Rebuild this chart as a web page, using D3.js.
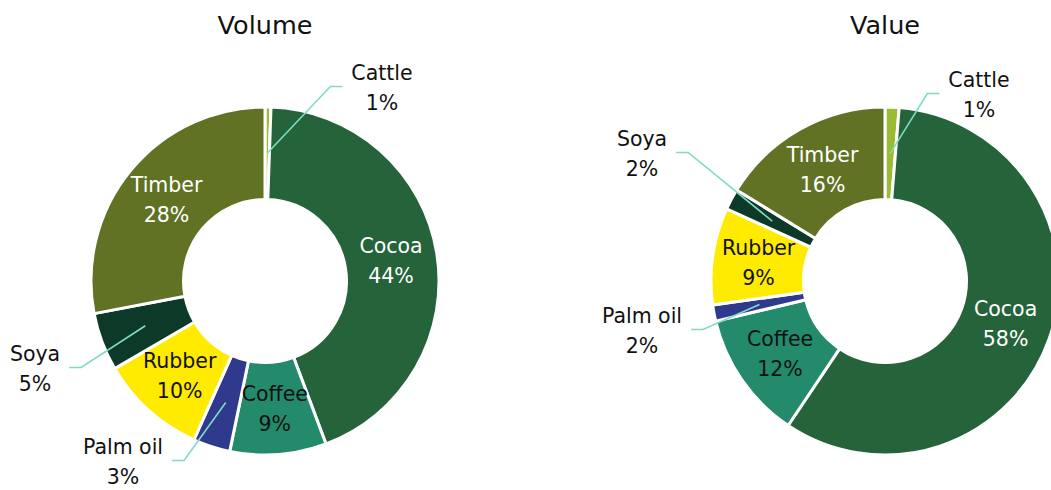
<!DOCTYPE html>
<html>
<head>
<meta charset="utf-8">
<script src="https://cdn.jsdelivr.net/npm/d3@7"></script>
<style>
  html, body { margin: 0; padding: 0; background: #fff; }
  svg { display: block; }
  text { font-family: "DejaVu Sans", sans-serif; }
</style>
</head>
<body>
<svg id="chart" width="1051" height="490"></svg>
<script>
// Commodity categories (clockwise from 12 o'clock)
const categories = ["Cattle", "Cocoa", "Coffee", "Palm oil", "Rubber", "Soya", "Timber"];

// Share of total, in percent
const volumeValues = [0.55, 43.75, 8.95, 3.45, 9.9, 5.4, 28.0];
const valueValues  = [1.3, 58.1, 11.9, 1.5, 9.0, 1.95, 16.25];

// Rounded labels shown on the slices
const volumeLabels = ["1%", "44%", "9%", "3%", "10%", "5%", "28%"];
const valueLabels  = ["1%", "58%", "12%", "2%", "9%", "2%", "16%"];

const chartTitles = ["Volume", "Value"];

const colors = {
  "Cattle":   "#9bbb36",
  "Cocoa":    "#25633a",
  "Coffee":   "#238a6b",
  "Palm oil": "#2f3a8c",
  "Rubber":   "#ffeb00",
  "Soya":     "#0d3a28",
  "Timber":   "#617225"
};
const lightText = new Set(["Cocoa", "Timber"]);

// Small slices labelled outside with a leader line: label block centre offset from the donut centre
const volumeOutside = {
  "Cattle":   { dx: 117,  dy: -193, side: "right" },
  "Soya":     { dx: -230, dy: 88,   side: "left" },
  "Palm oil": { dx: -142, dy: 181,  side: "left" }
};
const valueOutside = {
  "Cattle":   { dx: 94,   dy: -186, side: "right" },
  "Soya":     { dx: -243, dy: -127, side: "left" },
  "Palm oil": { dx: -243, dy: 50,   side: "left" }
};

const charts = [
  { title: chartTitles[0], values: volumeValues, labels: volumeLabels, outside: volumeOutside, cx: 265, cy: 281 },
  { title: chartTitles[1], values: valueValues,  labels: valueLabels,  outside: valueOutside,  cx: 885, cy: 281 }
];

const outerR = 174, innerR = 81.5;
const labelR = (outerR + innerR) / 2;
const lineGap = 30, capShift = 7.4;

const svg = d3.select("#chart");

const pie = d3.pie().sort(null).value(d => d.value).startAngle(0).endAngle(2 * Math.PI);
const arc = d3.arc().innerRadius(innerR).outerRadius(outerR);
const labelArc = d3.arc().innerRadius(labelR).outerRadius(labelR);

charts.forEach(ch => {
  const data = categories.map((c, i) => ({ name: c, value: ch.values[i], label: ch.labels[i] }));
  const arcs = pie(data);

  svg.append("text")
    .attr("x", ch.cx).attr("y", 34)
    .attr("text-anchor", "middle")
    .attr("font-size", 25.5)
    .attr("fill", "#111")
    .text(ch.title);

  const g = svg.append("g").attr("transform", `translate(${ch.cx},${ch.cy})`);

  g.selectAll("path.slice")
    .data(arcs)
    .join("path")
    .attr("class", "slice")
    .attr("d", arc)
    .attr("fill", d => colors[d.data.name])
    .attr("stroke", "#fff")
    .attr("stroke-width", 3)
    .attr("stroke-linejoin", "miter");

  const fontSize = 20.5;

  arcs.forEach(a => {
    const name = a.data.name;
    const [px, py] = labelArc.centroid(a);
    const out = ch.outside[name];
    let tx, ty;
    const lbl = g.append("text")
      .attr("text-anchor", "middle")
      .attr("font-size", fontSize)
      .attr("fill", lightText.has(name) && !out ? "#fff" : "#111");

    if (out) { tx = out.dx; ty = out.dy; } else { tx = px; ty = py; }

    lbl.append("tspan").attr("x", tx).attr("y", ty - lineGap / 2 + capShift).text(name);
    lbl.append("tspan").attr("x", tx).attr("y", ty + lineGap / 2 + capShift).text(a.data.label);

    if (out) {
      const w = lbl.node().getBBox().width;
      const pad = 9, elbow = 12;
      const ex = out.side === "right" ? tx - w / 2 - pad : tx + w / 2 + pad;
      const kx = out.side === "right" ? ex - elbow : ex + elbow;
      const ly = ty - 1.5;
      g.insert("path", "text")
        .attr("d", d3.line()([[px, py], [kx, ly], [ex, ly]]))
        .attr("fill", "none")
        .attr("stroke", "#7fdcc2")
        .attr("stroke-width", 1.6);
    }
  });
});
</script>
</body>
</html>
